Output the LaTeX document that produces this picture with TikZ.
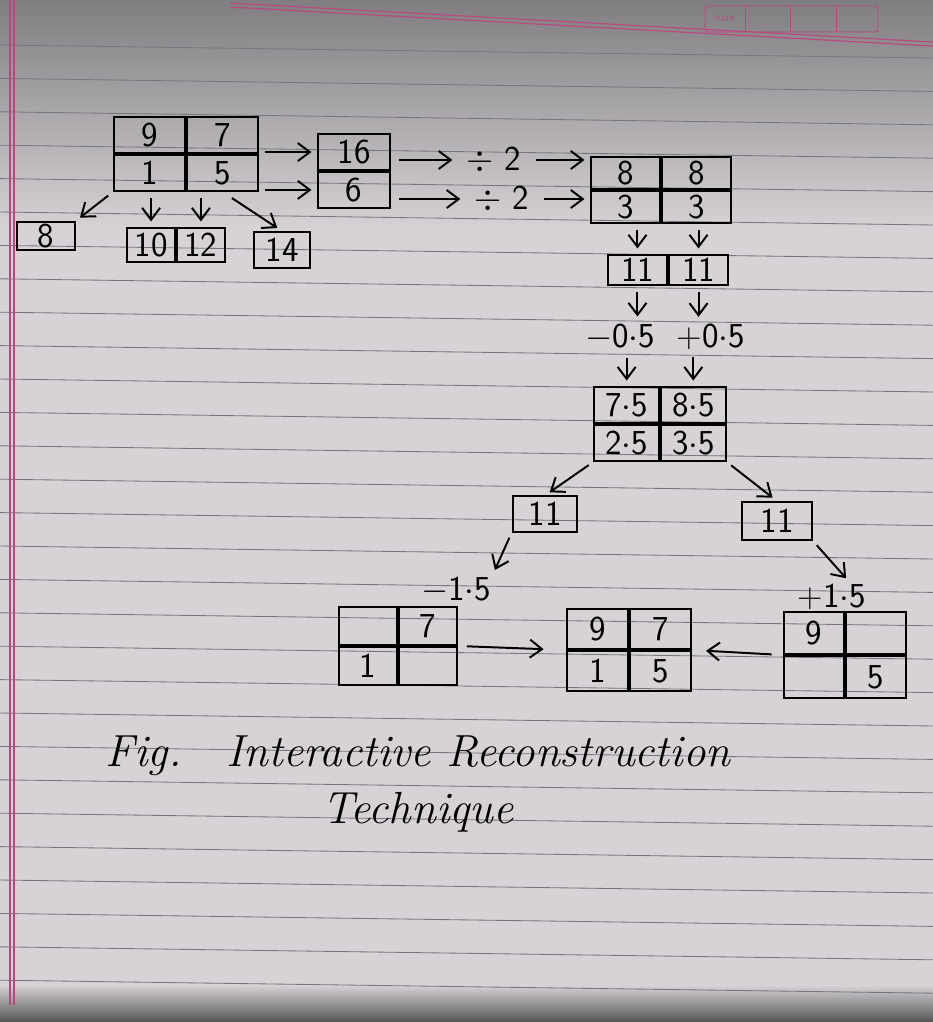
\documentclass[tikz,border=0pt]{standalone}
\usepackage{xcolor}
\usepackage{tikz}
\usetikzlibrary{positioning,arrows.meta,fit,calc}

\definecolor{paper}{RGB}{214,210,214}
\definecolor{ruling}{RGB}{120,118,126}
\definecolor{margin}{RGB}{188,70,128}

% 2x2 block of cells around a centre point
\newcommand{\quadgrid}[8]{%
  \node[cell,minimum width=#7,minimum height=#8,anchor=south east] (#1-a) at #2 {#3};
  \node[cell,minimum width=#7,minimum height=#8,anchor=south west] (#1-b) at #2 {#4};
  \node[cell,minimum width=#7,minimum height=#8,anchor=north east] (#1-c) at #2 {#5};
  \node[cell,minimum width=#7,minimum height=#8,anchor=north west] (#1-d) at #2 {#6};
  \node[fit=(#1-a)(#1-d),inner sep=0pt] (#1) {};
}

\begin{document}
\begin{tikzpicture}[
  x=0.025cm, y=-0.025cm,
  font=\sffamily\Huge,
  cell/.style={draw,line width=1.3pt,inner sep=0pt},
  lbl/.style={inner sep=1pt},
  arr/.style={line width=1.4pt,-{Straight Barb[length=3mm,width=4.5mm]},shorten <=4pt,shorten >=4pt},
  ruleline/.style={ruling,line width=0.6pt},
]
  % paper
  \fill[paper] (0,0) rectangle (933,1022);
  \shade[top color=paper!60!black,bottom color=paper] (0,0) rectangle (933,230);
  \shade[top color=paper,bottom color=paper!40!black] (0,985) rectangle (933,1022);
  \useasboundingbox (0,0) rectangle (933,1022);
  \foreach \k in {0,...,28}
    \draw[ruleline] (0,{45+33.4*\k}) -- (933,{58+33.4*\k});
  \draw[margin,line width=0.8pt] (10,0) -- (10,1005) (14,0) -- (14,1005);
  \draw[margin,line width=0.8pt] (230,3) -- (933,42) (230,7) -- (933,46);
  \draw[margin,line width=0.6pt,rounded corners=2pt] (705,6) rectangle (878,32);
  \draw[margin,line width=0.6pt] (745,6) -- (745,32) (790,6) -- (790,32) (836,6) -- (836,32);
  \node[margin,font=\sffamily\tiny] (datelbl) at (725,19) {DATE};

  % sums and differences
  \quadgrid{src}{(186,154)}{9}{7}{1}{5}{1.78cm}{0.9cm}
  \node[cell,minimum width=1.8cm,minimum height=0.9cm,anchor=south] (sum-a) at (354,171) {16};
  \node[cell,minimum width=1.8cm,minimum height=0.9cm,anchor=north] (sum-b) at (354,171) {6};
  \node[cell,minimum width=1.43cm,minimum height=0.7cm] (avg) at (46,236) {8};
  \node[cell,minimum width=1.2cm,minimum height=0.85cm,anchor=east] (pair-a) at (176,245) {10};
  \node[cell,minimum width=1.2cm,minimum height=0.85cm,anchor=west] (pair-b) at (176,245) {12};
  \node[cell,minimum width=1.38cm,minimum height=0.9cm] (diag) at (282,250) {14};

  \draw[arr] (src.east |- sum-a) -- (sum-a.west);
  \draw[arr] (src.east |- sum-b) -- (sum-b.west);
  \draw[arr] (src.south west) -- (avg.north east);
  \draw[arr] (pair-a.north |- src.south) -- (pair-a.north);
  \draw[arr] (pair-b.north |- src.south) -- (pair-b.north);
  \draw[arr,shorten <=8pt] (src-d.south) -- (diag.north);

  % halving
  \node[lbl] (half-a) at (494,160) {$\div$ 2};
  \node[lbl] (half-b) at (502,199) {$\div$ 2};
  \quadgrid{halved}{(661,190)}{8}{8}{3}{3}{1.72cm}{0.8cm}
  \node[cell,minimum width=1.48cm,minimum height=0.75cm,anchor=east] (mean-a) at (668,270) {11};
  \node[cell,minimum width=1.48cm,minimum height=0.75cm,anchor=west] (mean-b) at (668,270) {11};

  \draw[arr,shorten <=6pt,shorten >=9pt] (sum-a.east |- half-a) -- (half-a.west);
  \draw[arr,shorten <=6pt,shorten >=9pt] (sum-b.east |- half-b) -- (half-b.west);
  \draw[arr,shorten <=9pt] (half-a.east) -- (halved.west |- half-a);
  \draw[arr,shorten <=9pt] (half-b.east) -- (halved.west |- half-b);
  \draw[arr] (mean-a.north |- halved.south) -- (mean-a.north);
  \draw[arr] (mean-b.north |- halved.south) -- (mean-b.north);

  % offsets
  \node[lbl] (off-a) at (620,337) {$-$0$\cdot$5};
  \node[lbl] (off-b) at (711,337) {+0$\cdot$5};
  \quadgrid{est}{(660,424)}{7$\cdot$5}{8$\cdot$5}{2$\cdot$5}{3$\cdot$5}{1.62cm}{0.9cm}

  \draw[arr] (mean-a.south) -- (mean-a.south |- off-a.north);
  \draw[arr] (mean-b.south) -- (mean-b.south |- off-b.north);
  \draw[arr] (est-a.north |- off-a.south) -- (est-a.north);
  \draw[arr] (est-b.north |- off-b.south) -- (est-b.north);

  % back to the image
  \node[cell,minimum width=1.62cm,minimum height=0.88cm] (left) at (545,514) {11};
  \node[cell,minimum width=1.75cm,minimum height=0.95cm] (right) at (777,521) {11};
  \node[lbl] (corr-a) at (456,590) {$-$1$\cdot$5};
  \node[lbl] (corr-b) at (832,597) {+1$\cdot$5};
  \quadgrid{part-a}{(398,646)}{}{7}{1}{}{1.46cm}{0.96cm}
  \quadgrid{rec}{(629,650)}{9}{7}{1}{5}{1.52cm}{1.0cm}
  \quadgrid{part-b}{(845,655)}{9}{}{}{5}{1.5cm}{1.06cm}

  \draw[arr] (est-c.south west) -- (left.north);
  \draw[arr] (est-d.south east) -- (right.north);
  \draw[arr] (left.south west) -- (corr-a.north east);
  \draw[arr] (right.south east) -- ($(corr-b.north)!0.5!(corr-b.north east)$);
  \draw[arr,shorten <=6pt,shorten >=16pt] (part-a.east) -- (rec.west);
  \draw[arr,shorten <=8pt,shorten >=10pt] (part-b.west) -- (rec.east);

  \node[font=\itshape\fontsize{32}{40}\selectfont,align=center] (caption) at (418,784)
    {Fig.\quad Interactive Reconstruction\\Technique};
\end{tikzpicture}
\end{document}
